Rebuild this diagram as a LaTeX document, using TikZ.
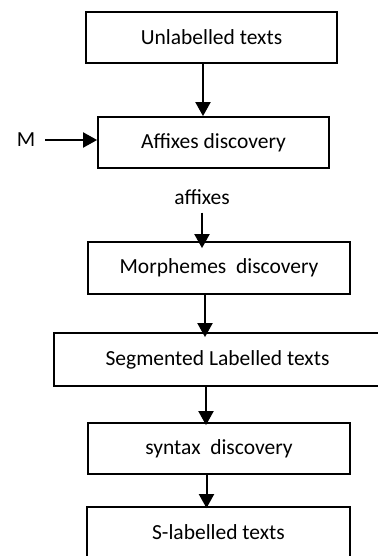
\documentclass[tikz,border=0pt]{standalone}
\usepackage{fontspec}
\setmainfont{Carlito}
\usetikzlibrary{arrows.meta}
\tikzset{
  box/.style={draw, line width=1.8pt, inner sep=0pt, minimum height=51pt, font=\fontsize{21.5}{25}\selectfont},
  lbl/.style={inner sep=0pt, font=\fontsize{21.5}{25}\selectfont},
  arr/.style={line width=2pt, -{Triangle[width=15pt,length=14pt]}}
}
\begin{document}
\begin{tikzpicture}[x=1pt,y=-1pt]
\useasboundingbox (0,0) rectangle (377,556);
\node[box, minimum width=251pt] (b1) at (211.5,37.5) {Unlabelled texts};
\node[box, minimum width=231pt] (b2) at (213.5,142.5) {Affixes discovery};
\node[lbl] (m) at (26,140) {M};
\node[lbl] (aff) at (202,197) {affixes};
\node[box, minimum width=262pt, minimum height=52pt] (b3) at (219,268) {Morphemes~~discovery};
\node[box, minimum width=327pt, minimum height=53pt] (b4) at (217.5,359.5) {Segmented Labelled texts};
\node[box, minimum width=262pt] (b5) at (219,448.5) {syntax~~discovery};
\node[box, minimum width=263pt] (b6) at (218.5,532.5) {S-labelled texts};
\draw[arr] ([xshift=-8.5pt]b1.south) coordinate (s1) -- (s1 |- b2.north);
\draw[arr] ([xshift=10pt]m.east) coordinate (s2) -- (s2 -| b2.west);
\draw[arr] ([yshift=-8pt]aff.south) coordinate (s3) -- ([yshift=-7pt]s3 |- b3.north);
\draw[arr] ([xshift=-14pt]b3.south) coordinate (s4) -- ([yshift=-5pt]s4 |- b4.north);
\draw[arr] ([xshift=-11.5pt]b4.south) coordinate (s5) -- ([yshift=-3pt]s5 |- b5.north);
\draw[arr] ([xshift=-12.5pt]b5.south) coordinate (s6) -- ([yshift=-2pt]s6 |- b6.north);
\end{tikzpicture}
\end{document}
